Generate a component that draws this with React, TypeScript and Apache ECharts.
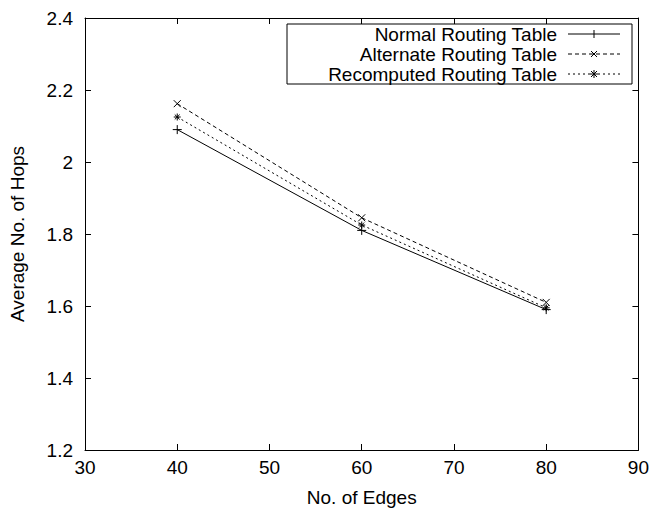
import React, { useEffect, useRef } from "react";
import * as echarts from "echarts";

const edges = [40, 60, 80];
const normalHops = [2.09, 1.81, 1.59];
const alternateHops = [2.162, 1.845, 1.61];
const recomputedHops = [2.125, 1.825, 1.595];
const seriesNames = ["Normal Routing Table", "Alternate Routing Table", "Recomputed Routing Table"];
const xTitle = "No. of Edges";
const yTitle = "Average No. of Hops";

const FONT = "'Liberation Sans', Arial, Helvetica, sans-serif";
const FS = 19;

const plusPath = "path://M0,5L10,5M5,0L5,10";
const crossPath = "path://M0,0L10,10M10,0L0,10";
const starPath = "path://M0,5L10,5M5,0L5,10M1.5,1.5L8.5,8.5M8.5,1.5L1.5,8.5";

const symbols = [plusPath, crossPath, starPath];
const symbolSizes = [9, 7, 7];
const dashTypes: any[] = ["solid", [4, 3], [2, 3]];
const values = [normalHops, alternateHops, recomputedHops];

export default function App() {
  const ref = useRef<HTMLDivElement>(null);
  useEffect(() => {
    if (!ref.current) return;
    const chart = echarts.init(ref.current, null, { renderer: "svg" });

    const axisLine = { show: true, lineStyle: { color: "#000", width: 1 } };
    const tick = { show: true, inside: true, length: 6, lineStyle: { color: "#000", width: 1 } };
    const label = { color: "#000", fontSize: FS, fontFamily: FONT };

    const gl = { left: 85, right: 13, top: 18, bottom: 61 };

    // legend drawn with graphic
    const legX1 = 287, legX2 = 632, legY1 = 24, legY2 = 84;
    const textRight = 557, lineL = 568, lineR = 620, rowY = [34, 54, 74];
    const legendChildren: any[] = [
      { type: "rect", shape: { x: legX1, y: legY1, width: legX2 - legX1, height: legY2 - legY1 }, style: { fill: "#fff", stroke: "#000", lineWidth: 1 } },
    ];
    const mid = (lineL + lineR) / 2;
    seriesNames.forEach((n, i) => {
      const y = rowY[i];
      legendChildren.push({ type: "text", style: { text: n, x: textRight, y, textAlign: "right", textVerticalAlign: "middle", fill: "#000", font: `${FS}px ${FONT}` } });
      legendChildren.push({ type: "line", shape: { x1: lineL, y1: y, x2: lineR, y2: y }, style: { stroke: "#000", lineWidth: 1, lineDash: dashTypes[i] === "solid" ? null : dashTypes[i] } });
      if (i === 0) {
        legendChildren.push({ type: "line", shape: { x1: mid, y1: y - 4, x2: mid, y2: y + 4 }, style: { stroke: "#000", lineWidth: 1 } });
      } else if (i === 1) {
        legendChildren.push({ type: "line", shape: { x1: mid - 3, y1: y - 3, x2: mid + 3, y2: y + 3 }, style: { stroke: "#000", lineWidth: 1 } });
        legendChildren.push({ type: "line", shape: { x1: mid - 3, y1: y + 3, x2: mid + 3, y2: y - 3 }, style: { stroke: "#000", lineWidth: 1 } });
      } else {
        legendChildren.push({ type: "line", shape: { x1: mid - 3, y1: y - 3, x2: mid + 3, y2: y + 3 }, style: { stroke: "#000", lineWidth: 1 } });
        legendChildren.push({ type: "line", shape: { x1: mid - 3, y1: y + 3, x2: mid + 3, y2: y - 3 }, style: { stroke: "#000", lineWidth: 1 } });
        legendChildren.push({ type: "line", shape: { x1: mid - 4, y1: y, x2: mid + 4, y2: y }, style: { stroke: "#000", lineWidth: 1 } });
        legendChildren.push({ type: "line", shape: { x1: mid, y1: y - 4, x2: mid, y2: y + 4 }, style: { stroke: "#000", lineWidth: 1 } });
      }
    });

    chart.setOption({
      animation: false,
      backgroundColor: "#fff",
      textStyle: { fontFamily: FONT },
      grid: { ...gl, containLabel: false },
      xAxis: [
        {
          type: "value", min: 30, max: 90, interval: 10, position: "bottom",
          axisLine, axisTick: tick, splitLine: { show: false },
          axisLabel: { ...label, margin: 8 },
          name: xTitle, nameLocation: "middle", nameGap: 38,
          nameTextStyle: { color: "#000", fontSize: FS, fontFamily: FONT },
        },
        {
          type: "value", min: 30, max: 90, interval: 10, position: "top",
          axisLine, axisTick: tick, splitLine: { show: false }, axisLabel: { show: false },
        },
      ],
      yAxis: [
        {
          type: "value", min: 1.2, max: 2.4, interval: 0.2, position: "left",
          axisLine, axisTick: tick, splitLine: { show: false },
          axisLabel: { ...label, margin: 12, formatter: (v: number) => String(parseFloat(v.toFixed(1))) },
          name: yTitle, nameLocation: "middle", nameGap: 58, nameRotate: 90,
          nameTextStyle: { color: "#000", fontSize: FS, fontFamily: FONT },
        },
        {
          type: "value", min: 1.2, max: 2.4, interval: 0.2, position: "right",
          axisLine, axisTick: tick, splitLine: { show: false }, axisLabel: { show: false },
        },
      ],
      graphic: [{ type: "group", z: 100, children: legendChildren }],
      series: seriesNames.map((n, i) => ({
        name: n,
        type: "line",
        data: edges.map((e, j) => [e, values[i][j]]),
        symbol: symbols[i],
        symbolSize: symbolSizes[i],
        showSymbol: true,
        lineStyle: { color: "#000", width: 1, type: dashTypes[i] },
        itemStyle: { color: "#000", borderColor: "#000", borderWidth: 1 },
      })),
    });
    return () => chart.dispose();
  }, []);
  return <div ref={ref} style={{ width: 652, height: 512, position: "absolute", left: 0, top: 0 }} />;
}
